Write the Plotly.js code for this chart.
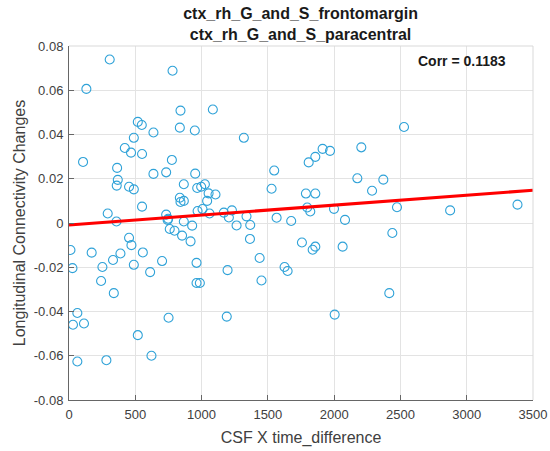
<!DOCTYPE html>
<html>
<head>
<meta charset="utf-8">
<script src="https://cdn.plot.ly/plotly-3.0.1.min.js"></script>
<style>
  html, body { margin: 0; padding: 0; background: #fff; }
  #chart { width: 550px; height: 451px; }
</style>
</head>
<body>
<div id="chart"></div>
<script>
// CSF x time difference for each subject
const csfTime = [
  307, 131, 781, 841, 1085, 519, 549, 836, 949, 637,
  489, 421, 468, 551, 106, 776, 363, 637, 733, 952,
  368, 360, 453, 489, 866, 967, 997, 1025, 1053, 1105,
  836, 841, 866, 1042, 551, 970, 1007, 1060, 1168, 292,
  358, 733, 748, 744, 866, 1206,
  760, 796, 929, 853, 917, 453, 471, 11, 171, 388,
  332, 557, 702, 962, 26, 252, 489, 612, 1196, 242,
  962, 987, 338, 63, 30, 113, 751, 1190, 519, 622,
  63, 282,
  1319, 1548, 1528, 1808, 1858, 1913, 1969, 2205, 2175, 1787,
  1858, 1797, 1820, 1999, 2082, 1676, 1566, 1339, 1367, 1264,
  1229, 1365, 1757, 1838, 1858, 2064, 1438, 1626, 1649, 1452,
  2004,
  2527, 2371, 2286, 2474, 2875, 3383, 2439, 2416
];

// Longitudinal connectivity change for each subject
const connChange = [
  0.0739, 0.0606, 0.0688, 0.0508, 0.0513, 0.0457, 0.0443, 0.0431, 0.0418, 0.0409,
  0.0385, 0.0339, 0.0318, 0.0312, 0.0276, 0.0285, 0.0249, 0.0222, 0.0229, 0.0223,
  0.0195, 0.0169, 0.0164, 0.0152, 0.0175, 0.0158, 0.0164, 0.0175, 0.0134, 0.0129,
  0.0114, 0.0095, 0.0100, 0.0100, 0.0074, 0.0054, 0.0063, 0.0043, 0.0047, 0.0043,
  0.0007, 0.0038, 0.0019, 0.0014, 0.0007, 0.0025,
  -0.0027, -0.0035, -0.0012, -0.0057, -0.0083, -0.0067, -0.0100, -0.0122, -0.0134, -0.0138,
  -0.0167, -0.0133, -0.0172, -0.0180, -0.0204, -0.0199, -0.0189, -0.0222, -0.0213, -0.0262,
  -0.0271, -0.0271, -0.0317, -0.0407, -0.0460, -0.0454, -0.0428, -0.0423, -0.0507, -0.0600,
  -0.0626, -0.0620,
  0.0385, 0.0237, 0.0155, 0.0274, 0.0299, 0.0335, 0.0326, 0.0342, 0.0202, 0.0133,
  0.0133, 0.0070, 0.0052, 0.0064, 0.0014, 0.0009, 0.0024, 0.0030, -0.0009, -0.0011,
  0.0057, -0.0072, -0.0088, -0.0121, -0.0107, -0.0107, -0.0158, -0.0199, -0.0217, -0.0260,
  -0.0414,
  0.0434, 0.0196, 0.0146, 0.0071, 0.0057, 0.0083, -0.0045, -0.0317
];

// Least-squares fit line endpoints
const fitX = [0, 3500];
const fitY = [-0.0009, 0.0148];

const corrValue = 0.1183;

const xTicks = [0, 500, 1000, 1500, 2000, 2500, 3000, 3500];
const yTicks = [-0.08, -0.06, -0.04, -0.02, 0, 0.02, 0.04, 0.06, 0.08];
const yTickText = ['-0.08', '-0.06', '-0.04', '-0.02', '0', '0.02', '0.04', '0.06', '0.08'];

const font = 'Liberation Sans, Arial, Helvetica, sans-serif';

const traces = [
  {
    type: 'scatter',
    mode: 'markers',
    x: csfTime,
    y: connChange,
    marker: {
      symbol: 'circle-open',
      size: 9,
      color: '#2fa2d8',
      line: { width: 1.1, color: '#2fa2d8' }
    },
    hoverinfo: 'x+y'
  },
  {
    type: 'scatter',
    mode: 'lines',
    x: fitX,
    y: fitY,
    line: { color: '#ff0000', width: 3.2 },
    hoverinfo: 'skip'
  }
];

const layout = {
  width: 550,
  height: 451,
  paper_bgcolor: '#ffffff',
  plot_bgcolor: '#ffffff',
  showlegend: false,
  margin: { l: 69, r: 17, t: 46, b: 51, pad: 0 },
  font: { family: font, size: 13, color: '#404040' },
  title: {
    text: '<b>ctx_rh_G_and_S_frontomargin</b><br><b>ctx_rh_G_and_S_paracentral</b>',
    font: { family: font, size: 16, color: '#1a1a1a' },
    x: 0.5465,
    xanchor: 'center',
    y: 0.957,
    yanchor: 'top'
  },
  xaxis: {
    range: [0, 3500],
    tickvals: xTicks,
    ticks: 'inside',
    ticklen: 5,
    tickcolor: '#666',
    showline: true,
    linecolor: '#666',
    linewidth: 1,
    showgrid: true,
    gridcolor: '#e3e3e3',
    gridwidth: 1,
    zeroline: false,
    ticklabelstandoff: 2,
    tickfont: { family: font, size: 13, color: '#404040' },
    title: {
      text: 'CSF X time_difference',
      font: { family: font, size: 16, color: '#404040' },
      standoff: 11
    },
    automargin: false
  },
  yaxis: {
    range: [-0.08, 0.08],
    tickvals: yTicks,
    ticktext: yTickText,
    ticks: 'inside',
    ticklen: 5,
    tickcolor: '#666',
    showline: true,
    linecolor: '#666',
    linewidth: 1,
    showgrid: true,
    gridcolor: '#e3e3e3',
    gridwidth: 1,
    zeroline: false,
    ticklabelstandoff: 2,
    tickfont: { family: font, size: 13, color: '#404040' },
    title: {
      text: 'Longitudinal Connectivity Changes',
      font: { family: font, size: 16, color: '#404040' },
      standoff: 4
    },
    automargin: false
  },
  shapes: [
    // light box on top and right edges
    { type: 'line', xref: 'paper', yref: 'paper', x0: 0, x1: 1, y0: 1, y1: 1,
      line: { color: '#d9d9d9', width: 1 } },
    { type: 'line', xref: 'paper', yref: 'paper', x0: 1, x1: 1, y0: 0, y1: 1,
      line: { color: '#d9d9d9', width: 1 } }
  ],
  annotations: [
    {
      text: '<b>Corr = ' + corrValue.toFixed(4) + '</b>',
      xref: 'paper', yref: 'paper',
      x: 0.846, y: 0.958,
      xanchor: 'center', yanchor: 'middle',
      showarrow: false,
      font: { family: font, size: 14, color: '#1a1a1a' }
    }
  ]
};

Plotly.newPlot('chart', traces, layout, { staticPlot: true, displayModeBar: false });
</script>
</body>
</html>
